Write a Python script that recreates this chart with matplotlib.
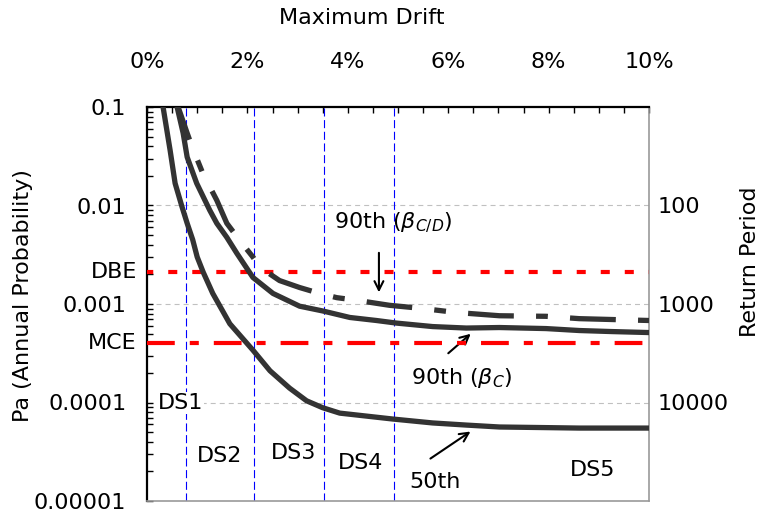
import numpy as np
import matplotlib
matplotlib.use("Agg")
import matplotlib.pyplot as plt
from matplotlib.ticker import FixedLocator, NullFormatter, LogLocator
from matplotlib.transforms import blended_transform_factory

# Data (drift in %, annual probability of exceedance)
drift_50 = [0.30, 0.32, 0.46, 0.56, 0.70, 0.80, 0.91, 1.00, 1.12, 1.31, 1.65, 2.11,
            2.45, 2.84, 3.18, 3.50, 3.84, 4.04, 4.89, 5.69, 6.36, 7.02, 7.95, 8.61, 10.0]
pa_50 = [0.13, 0.1, 0.0365, 0.0168, 0.0096, 0.0066, 0.0045, 0.0030, 0.0021, 0.00128,
         0.00063, 0.00034, 0.00021, 0.00014, 0.000104, 0.0000885, 0.000078, 0.000076,
         0.000068, 0.000062, 0.000059, 0.0000564, 0.0000556, 0.000055, 0.000055]

drift_90c = [0.58, 0.60, 0.72, 0.80, 0.99, 1.25, 1.39, 1.59, 1.79, 2.11, 2.51, 3.04,
             3.50, 4.04, 4.57, 4.97, 5.69, 6.36, 7.02, 7.95, 8.61, 9.26, 10.0]
pa_90c = [0.13, 0.1, 0.0543, 0.031, 0.0168, 0.00895, 0.0066, 0.00475, 0.00327, 0.00186,
          0.00128, 0.00095, 0.00085, 0.00073, 0.00068, 0.00064, 0.00059, 0.00057,
          0.000577, 0.000563, 0.000538, 0.000525, 0.000513]

drift_90cd = [0.60, 0.62, 0.80, 0.90, 1.11, 1.39, 1.59, 1.85, 2.11, 2.25, 2.64, 3.04,
              3.44, 3.78, 4.18, 4.83, 5.49, 6.16, 7.02, 7.95, 8.61, 10.0]
pa_90cd = [0.13, 0.1, 0.0543, 0.0392, 0.0213, 0.0113, 0.0066, 0.0044, 0.0030, 0.00236,
           0.00173, 0.00147, 0.00128, 0.00116, 0.00109, 0.00097, 0.00090, 0.00082,
           0.00076, 0.00075, 0.00071, 0.00068]

ds_limits = [0.78, 2.14, 3.52, 4.92]
ds_labels = ["DS1", "DS2", "DS3", "DS4", "DS5"]
dbe = 1 / 475
mce = 1 / 2475

FS = 16
plt.rcParams["font.family"] = "DejaVu Sans"
plt.rcParams["font.size"] = FS
plt.rcParams["lines.scale_dashes"] = False

fig = plt.figure(figsize=(7.63, 5.18), dpi=100)
W, H = 763, 518
ax = fig.add_axes([147 / W, 1 - 501 / H, (649 - 147) / W, (501 - 107) / H])

curve = "#333333"
ax.plot(drift_50, pa_50, color=curve, lw=3.8, solid_joinstyle="round", zorder=5)
ax.plot(drift_90c, pa_90c, color=curve, lw=3.8, solid_joinstyle="round", zorder=5)
ax.plot(drift_90cd, pa_90cd, color=curve, lw=3.8, linestyle=(0, (33, 16, 8.5, 16)),
        dash_capstyle="butt", zorder=5)

ax.axhline(dbe, color="red", lw=3.0, linestyle=(2, (6.5, 10.8)), zorder=4)
ax.axhline(mce, color="red", lw=3.0, linestyle=(0, (20, 10.8, 6.5, 10.8)), zorder=4)
for d in ds_limits:
    ax.axvline(d, color="blue", lw=0.8, linestyle=(0, (5.8, 2.6)), zorder=2)

ax.set_yscale("log")
ax.set_ylim(1e-5, 0.1)
ax.set_xlim(0, 10)

# grid
for g in [1e-2, 1e-3, 1e-4]:
    ax.axhline(g, color="#c0c0c0", lw=0.8, linestyle=(0, (3.6, 2.9)), zorder=1)

# x axis on top
ax.xaxis.tick_top()
ax.set_xticks([0, 2, 4, 6, 8, 10])
ax.set_xticklabels([f"{v}%" for v in [0, 2, 4, 6, 8, 10]])
ax.xaxis.set_minor_locator(FixedLocator(np.arange(0, 10.01, 0.5)))
ax.tick_params(axis="x", which="both", direction="in", length=4.5, width=1,
               top=True, bottom=False, pad=25, labelsize=FS)

ax.set_yticks([1e-5, 1e-4, 1e-3, 1e-2, 1e-1])
ax.set_yticklabels(["0.00001", "0.0001", "0.001", "0.01", "0.1"])
ax.yaxis.set_minor_locator(LogLocator(base=10, subs=np.arange(2, 10)))
ax.yaxis.set_minor_formatter(NullFormatter())
ax.tick_params(axis="y", which="both", direction="in", length=4, width=1,
               right=False, pad=15, labelsize=FS)

for s in ["left", "top"]:
    ax.spines[s].set_color("black")
    ax.spines[s].set_linewidth(1.6)
for s in ["right", "bottom"]:
    ax.spines[s].set_color("#999999")
    ax.spines[s].set_linewidth(1.2)

# right axis: return period
ax2 = ax.twinx()
ax2.set_yscale("log")
ax2.set_ylim(1e-5, 0.1)
ax2.set_yticks([1e-4, 1e-3, 1e-2])
ax2.set_yticklabels(["10000", "1000", "100"])
ax2.yaxis.set_minor_locator(FixedLocator([]))
ax2.tick_params(axis="y", which="both", length=0, pad=6, labelsize=FS)
for s in ax2.spines.values():
    s.set_visible(False)

# labels
fig.text(362 / W, 1 - 18 / H, "Maximum Drift", ha="center", va="center", fontsize=FS)
fig.text(23 / W, 1 - 296 / H, "Pa (Annual Probability)", rotation=90,
         ha="center", va="center", fontsize=FS)
fig.text(750 / W, 1 - 262 / H, "Return Period", rotation=90,
         ha="center", va="center", fontsize=FS)

tr = blended_transform_factory(ax.transAxes, ax.transData)
ax.text(-0.02, dbe, "DBE", transform=tr, ha="right", va="center", fontsize=FS)
ax.text(-0.02, mce, "MCE", transform=tr, ha="right", va="center", fontsize=FS)

# damage state labels
ds_pos = [(0.66, 9.9e-5), (1.45, 2.86e-5), (2.91, 3.07e-5), (4.26, 2.43e-5), (8.88, 2.07e-5)]
for lab, (x, y) in zip(ds_labels, ds_pos):
    ax.text(x, y, lab, ha="center", va="center", fontsize=FS, zorder=6,
            bbox=dict(facecolor="white", edgecolor="none", pad=1))

# annotations
arrow = dict(arrowstyle="->", color="black", lw=1.5, mutation_scale=16)
ax.text(4.91, 0.0066, r"90th ($\beta_{C/D}$)", ha="center", va="center", fontsize=FS)
ax.annotate("", xy=(4.62, 0.00123), xytext=(4.62, 0.00353), arrowprops=arrow)
ax.text(6.27, 0.000177, r"90th ($\beta_{C}$)", ha="center", va="center", fontsize=FS)
ax.annotate("", xy=(6.49, 0.00052), xytext=(5.96, 0.000303), arrowprops=arrow)
ax.text(5.74, 1.56e-5, "50th", ha="center", va="center", fontsize=FS)
ax.annotate("", xy=(6.49, 5.26e-5), xytext=(5.60, 2.6e-5), arrowprops=arrow)

fig.savefig("out.png", dpi=100)
